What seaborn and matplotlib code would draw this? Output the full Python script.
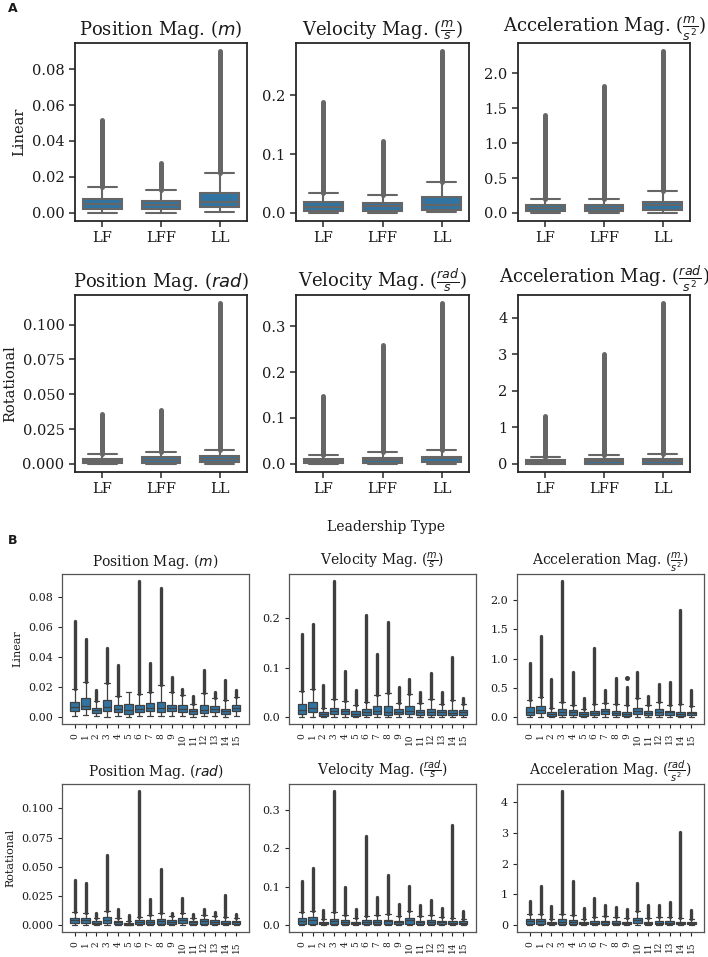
import numpy as np
import pandas as pd
import seaborn as sns
import matplotlib
matplotlib.use('Agg')
import matplotlib.pyplot as plt


# Categories
leader_types = ['LF', 'LFF', 'LL']
groups = ['0', '1', '2', '3', '4', '5', '6', '7', '8', '9', '10', '11', '12', '13', '14', '15']

# Each box: (whisker low, q1, median, q3, whisker high, highest outlier)
# Panel A - by leadership type
a_lin_pos = [(0.0000, 0.0020, 0.0052, 0.0076, 0.0145, 0.0515),
             (0.0000, 0.0022, 0.0046, 0.0069, 0.0130, 0.0280),
             (0.0007, 0.0032, 0.0063, 0.0111, 0.0221, 0.0900)]
a_lin_vel = [(0.000, 0.004, 0.010, 0.0186, 0.034, 0.189),
             (0.000, 0.004, 0.011, 0.0169, 0.031, 0.1215),
             (0.001, 0.0056, 0.013, 0.0266, 0.052, 0.275)]
a_lin_acc = [(0.000, 0.033, 0.071, 0.118, 0.200, 1.40),
             (0.000, 0.033, 0.066, 0.114, 0.204, 1.82),
             (0.005, 0.047, 0.109, 0.161, 0.308, 2.32)]
a_rot_pos = [(0.0000, 0.0007, 0.0019, 0.0038, 0.0071, 0.0357),
             (0.0000, 0.0010, 0.0026, 0.0047, 0.0085, 0.0385),
             (0.0000, 0.0012, 0.0038, 0.0054, 0.0097, 0.1154)]
a_rot_vel = [(0.000, 0.0030, 0.0064, 0.0107, 0.0200, 0.148),
             (0.000, 0.0030, 0.0093, 0.0136, 0.0257, 0.259),
             (0.000, 0.0036, 0.0120, 0.0160, 0.0310, 0.350)]
a_rot_acc = [(0.000, 0.010, 0.045, 0.100, 0.180, 1.32),
             (0.000, 0.009, 0.070, 0.126, 0.235, 3.00),
             (0.000, 0.009, 0.090, 0.144, 0.270, 4.40)]

# Panel B - by group
b_lin_pos = [(0.0010, 0.0042, 0.0071, 0.0104, 0.0188, 0.0645),
             (0.0015, 0.0053, 0.0075, 0.0126, 0.0232, 0.0520),
             (0.0008, 0.0031, 0.0046, 0.0064, 0.0108, 0.0180),
             (0.0000, 0.0042, 0.0066, 0.0113, 0.0225, 0.0460),
             (0.0005, 0.0033, 0.0053, 0.0080, 0.0144, 0.0350),
             (0.0002, 0.0024, 0.0049, 0.0088, 0.0170, 0.0170),
             (0.0008, 0.0033, 0.0055, 0.0080, 0.0152, 0.0910),
             (0.0008, 0.0038, 0.0064, 0.0093, 0.0170, 0.0362),
             (0.0005, 0.0035, 0.0060, 0.0104, 0.0214, 0.0860),
             (0.0008, 0.0038, 0.0064, 0.0084, 0.0166, 0.0265),
             (0.0008, 0.0035, 0.0057, 0.0080, 0.0148, 0.0188),
             (0.0003, 0.0024, 0.0040, 0.0053, 0.0090, 0.0141),
             (0.0005, 0.0031, 0.0051, 0.0080, 0.0159, 0.0314),
             (0.0008, 0.0033, 0.0053, 0.0073, 0.0126, 0.0170),
             (0.0002, 0.0020, 0.0038, 0.0057, 0.0117, 0.0245),
             (0.0010, 0.0038, 0.0060, 0.0082, 0.0137, 0.0181)]
b_lin_vel = [(0.001, 0.0073, 0.0147, 0.0260, 0.053, 0.168),
             (0.001, 0.0100, 0.0190, 0.0300, 0.057, 0.187),
             (0.000, 0.0033, 0.0067, 0.0107, 0.019, 0.065),
             (0.001, 0.0067, 0.0127, 0.0180, 0.036, 0.275),
             (0.001, 0.0073, 0.0127, 0.0173, 0.0327, 0.093),
             (0.000, 0.0033, 0.0073, 0.0127, 0.0247, 0.055),
             (0.000, 0.0053, 0.0113, 0.0160, 0.031, 0.207),
             (0.001, 0.0067, 0.0133, 0.0220, 0.0447, 0.127),
             (0.000, 0.0053, 0.0113, 0.0227, 0.048, 0.191),
             (0.001, 0.0060, 0.0113, 0.0160, 0.029, 0.061),
             (0.001, 0.0073, 0.0133, 0.0220, 0.047, 0.078),
             (0.000, 0.0047, 0.0107, 0.0147, 0.028, 0.051),
             (0.000, 0.0053, 0.0113, 0.0167, 0.0367, 0.090),
             (0.000, 0.0053, 0.0100, 0.0147, 0.0273, 0.0507),
             (0.000, 0.0040, 0.0093, 0.0147, 0.0347, 0.121),
             (0.000, 0.0047, 0.0100, 0.0147, 0.026, 0.0393)]
b_lin_acc = [(0.005, 0.040, 0.096, 0.170, 0.300, 0.930),
             (0.010, 0.068, 0.130, 0.186, 0.345, 1.395),
             (0.003, 0.028, 0.062, 0.090, 0.153, 0.660),
             (0.005, 0.040, 0.090, 0.136, 0.266, 2.330),
             (0.005, 0.040, 0.090, 0.124, 0.210, 0.774),
             (0.002, 0.023, 0.051, 0.085, 0.140, 0.333),
             (0.004, 0.034, 0.079, 0.113, 0.220, 1.186),
             (0.008, 0.051, 0.100, 0.141, 0.249, 0.463),
             (0.004, 0.034, 0.068, 0.113, 0.220, 0.678),
             (0.003, 0.028, 0.062, 0.096, 0.209, 0.520),
             (0.008, 0.056, 0.113, 0.164, 0.322, 0.774),
             (0.005, 0.040, 0.079, 0.113, 0.209, 0.367),
             (0.005, 0.045, 0.096, 0.136, 0.254, 0.565),
             (0.006, 0.045, 0.085, 0.113, 0.209, 0.605),
             (0.003, 0.028, 0.056, 0.096, 0.220, 1.830),
             (0.006, 0.040, 0.068, 0.096, 0.198, 0.463)]
b_lin_acc_stray = {9: 0.678}
b_rot_pos = [(0.0002, 0.0017, 0.0042, 0.0065, 0.0112, 0.0388),
             (0.0002, 0.0022, 0.0045, 0.0065, 0.0107, 0.0365),
             (0.0000, 0.0008, 0.0022, 0.0037, 0.0065, 0.0107),
             (0.0002, 0.0020, 0.0045, 0.0070, 0.0126, 0.0604),
             (0.0000, 0.0011, 0.0025, 0.0037, 0.0065, 0.0140),
             (0.0000, 0.0003, 0.0011, 0.0020, 0.0037, 0.0087),
             (0.0000, 0.0011, 0.0028, 0.0042, 0.0070, 0.1152),
             (0.0000, 0.0011, 0.0031, 0.0048, 0.0087, 0.0228),
             (0.0000, 0.0011, 0.0034, 0.0053, 0.0107, 0.0486),
             (0.0000, 0.0011, 0.0031, 0.0048, 0.0079, 0.0107),
             (0.0002, 0.0022, 0.0045, 0.0065, 0.0107, 0.0233),
             (0.0000, 0.0011, 0.0025, 0.0037, 0.0065, 0.0098),
             (0.0000, 0.0014, 0.0034, 0.0053, 0.0087, 0.0140),
             (0.0000, 0.0014, 0.0031, 0.0048, 0.0079, 0.0112),
             (0.0000, 0.0008, 0.0020, 0.0037, 0.0070, 0.0261),
             (0.0000, 0.0011, 0.0025, 0.0037, 0.0065, 0.0098)]
b_rot_vel = [(0.000, 0.0043, 0.0120, 0.0180, 0.0335, 0.116),
             (0.000, 0.0043, 0.0138, 0.0206, 0.0360, 0.148),
             (0.000, 0.0026, 0.0060, 0.0086, 0.0160, 0.040),
             (0.000, 0.0034, 0.0103, 0.0170, 0.0335, 0.350),
             (0.000, 0.0034, 0.0095, 0.0138, 0.0275, 0.100),
             (0.000, 0.0026, 0.0060, 0.0086, 0.0190, 0.043),
             (0.000, 0.0026, 0.0086, 0.0130, 0.0230, 0.231),
             (0.000, 0.0034, 0.0095, 0.0146, 0.0275, 0.073),
             (0.000, 0.0034, 0.0103, 0.0146, 0.0290, 0.132),
             (0.000, 0.0026, 0.0077, 0.0120, 0.0230, 0.056),
             (0.000, 0.0043, 0.0130, 0.0190, 0.0360, 0.102),
             (0.000, 0.0026, 0.0077, 0.0120, 0.0230, 0.053),
             (0.000, 0.0026, 0.0095, 0.0146, 0.0275, 0.066),
             (0.000, 0.0026, 0.0077, 0.0120, 0.0215, 0.046),
             (0.000, 0.0026, 0.0060, 0.0103, 0.0190, 0.261),
             (0.000, 0.0026, 0.0069, 0.0103, 0.0170, 0.036)]
b_rot_acc = [(0.000, 0.043, 0.128, 0.190, 0.370, 0.80),
             (0.000, 0.053, 0.150, 0.213, 0.370, 1.28),
             (0.000, 0.032, 0.064, 0.107, 0.213, 0.64),
             (0.000, 0.043, 0.107, 0.190, 0.370, 4.37),
             (0.000, 0.043, 0.107, 0.160, 0.320, 1.44),
             (0.000, 0.032, 0.064, 0.107, 0.213, 0.55),
             (0.000, 0.032, 0.085, 0.128, 0.267, 0.87),
             (0.000, 0.043, 0.096, 0.150, 0.300, 0.66),
             (0.000, 0.032, 0.085, 0.128, 0.267, 0.60),
             (0.000, 0.032, 0.075, 0.117, 0.235, 0.53),
             (0.000, 0.064, 0.160, 0.235, 0.450, 1.36),
             (0.000, 0.032, 0.075, 0.117, 0.245, 0.66),
             (0.000, 0.032, 0.085, 0.139, 0.267, 0.67),
             (0.000, 0.032, 0.085, 0.128, 0.267, 0.77),
             (0.000, 0.032, 0.064, 0.107, 0.235, 3.04),
             (0.000, 0.032, 0.064, 0.107, 0.213, 0.50)]

lin_titles = ['Position Mag. ($m$)', r'Velocity Mag. ($\frac{m}{s}$)',
              r'Acceleration Mag. ($\frac{m}{s^2}$)']
rot_titles = ['Position Mag. ($rad$)', r'Velocity Mag. ($\frac{rad}{s}$)',
              r'Acceleration Mag. ($\frac{rad}{s^2}$)']


def to_frame(stats, cats):
    # five numbers per box go in as raw values, whiskers span min..max
    rows = []
    for cat, s in zip(cats, stats):
        for v in s[:5]:
            rows.append({'types': cat, 'values': v})
    return pd.DataFrame(rows)


def draw_box(ax, stats, cats, box_width, cap_width, lw, line_color, flier_lw):
    df = to_frame(stats, cats)
    sns.boxplot(x='types', y='values', data=df, order=cats, ax=ax,
                color='#1f77b4', width=box_width, linewidth=lw,
                linecolor=line_color, whis=(0, 100), showfliers=False,
                capwidths=cap_width)

    # Dense outlier streak above the upper whisker
    for i, s in enumerate(stats):
        if s[5] > s[4]:
            ax.plot([i, i], [s[4], s[5]], color=line_color, lw=flier_lw,
                    solid_capstyle='round', zorder=1)
    ax.set(xlabel='', ylabel='')


sns.set_theme(style='ticks')
plt.rcParams['font.family'] = ['DejaVu Serif']
plt.rcParams['mathtext.fontset'] = 'dejavusans'
plt.rcParams['text.color'] = '#1a1a1a'
plt.rcParams['axes.labelcolor'] = '#1a1a1a'
plt.rcParams['xtick.labelcolor'] = '#1a1a1a'
plt.rcParams['ytick.labelcolor'] = '#1a1a1a'

fig = plt.figure(figsize=(7.08, 9.57), dpi=100)
W, H = 708.0, 957.0


def add_ax(x0, y0, x1, y1):
    return fig.add_axes([x0 / W, 1 - y1 / H, (x1 - x0) / W, (y1 - y0) / H])


# ---- Panel A ----
a_cols = [(75, 247), (296, 469), (518, 690)]
a_rows = [(43, 221), (295, 472)]
a_data = [[a_lin_pos, a_lin_vel, a_lin_acc], [a_rot_pos, a_rot_vel, a_rot_acc]]
a_grey = '#666666'
for r, (y0, y1) in enumerate(a_rows):
    for c, (x0, x1) in enumerate(a_cols):
        ax = add_ax(x0, y0, x1, y1)
        draw_box(ax, a_data[r][c], leader_types, 0.66, 0.5, 1.5, a_grey, 3.6)
        ax.set_title([lin_titles, rot_titles][r][c], fontsize=13)
        ax.tick_params(labelsize=10.5, width=1.1, length=4, color='#262626')
        for sp in ax.spines.values():
            sp.set_linewidth(1.3)
            sp.set_color('#262626')
        if c == 0:
            ax.set_ylabel(['Linear', 'Rotational'][r], fontsize=10.5)

fig.text(386 / W, 1 - 527 / H, 'Leadership Type', ha='center', va='center', fontsize=10)

# ---- Panel B ----
b_cols = [(62, 249), (289, 476), (517, 704)]
b_rows = [(574, 724), (784, 932)]
b_data = [[b_lin_pos, b_lin_vel, b_lin_acc], [b_rot_pos, b_rot_vel, b_rot_acc]]
b_grey = '#3f3f3f'
for r, (y0, y1) in enumerate(b_rows):
    for c, (x0, x1) in enumerate(b_cols):
        ax = add_ax(x0, y0, x1, y1)
        draw_box(ax, b_data[r][c], groups, 0.8, 0.5, 0.9, b_grey, 2.4)
        if r == 0 and c == 2:
            for k, v in b_lin_acc_stray.items():
                ax.plot([k], [v], 'o', ms=2.6, color=b_grey)
        ax.set_title([lin_titles, rot_titles][r][c], fontsize=10)
        ax.tick_params(axis='y', labelsize=8, width=0.8, length=3)
        ax.tick_params(axis='x', labelsize=6.5, width=0.8, length=3, rotation=90)
        for sp in ax.spines.values():
            sp.set_linewidth(0.9)
            sp.set_color('#555555')
        if c == 0:
            ax.set_ylabel(['Linear', 'Rotational'][r], fontsize=8)

fig.text(8 / W, 1 - 9 / H, 'A', fontsize=9, weight='bold', family='DejaVu Sans', va='center')
fig.text(8 / W, 1 - 540 / H, 'B', fontsize=9, weight='bold', family='DejaVu Sans', va='center')

plt.savefig('out.png', dpi=100)
